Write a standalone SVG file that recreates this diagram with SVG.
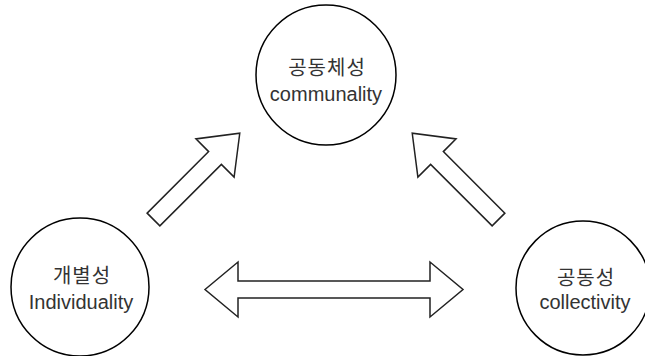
<svg xmlns="http://www.w3.org/2000/svg" width="645" height="356" viewBox="0 0 645 356">
<style>
.node{fill:#fff;stroke:#000;stroke-width:1.5}
.arrow{fill:#fff;stroke:#222;stroke-width:1.5;stroke-linejoin:miter}
.t{font-family:"Liberation Sans","Noto Sans CJK KR",sans-serif;font-size:20px;fill:#333;text-anchor:middle}
.k{letter-spacing:1px}
</style>
<rect width="645" height="356" fill="#fff"/>
<g id="connectors">
<polygon class="arrow" transform="translate(153.5,219.5) rotate(-45)" points="0,-9 87,-9 87,-27 122,0 87,27 87,9 0,9"/>
<polygon class="arrow" transform="translate(498.5,219.5) rotate(-135)" points="0,-9 87,-9 87,-27 122,0 87,27 87,9 0,9"/>
<polygon class="arrow" points="205,289.5 238,262 238,281 430,281 430,262 463,289.5 430,317 430,298 238,298 238,317"/>
</g>
<g id="communality">
<circle class="node" cx="326" cy="75" r="70"/>
<text class="t k" x="327" y="75">공동체성</text>
<text class="t" x="326" y="101">communality</text>
</g>
<g id="individuality">
<circle class="node" cx="80" cy="287" r="69"/>
<text class="t k" x="82" y="283">개별성</text>
<text class="t" x="81" y="309">Individuality</text>
</g>
<g id="collectivity">
<circle class="node" cx="583" cy="288" r="67"/>
<text class="t k" x="586" y="285">공동성</text>
<text class="t" x="585" y="309">collectivity</text>
</g>
</svg>
